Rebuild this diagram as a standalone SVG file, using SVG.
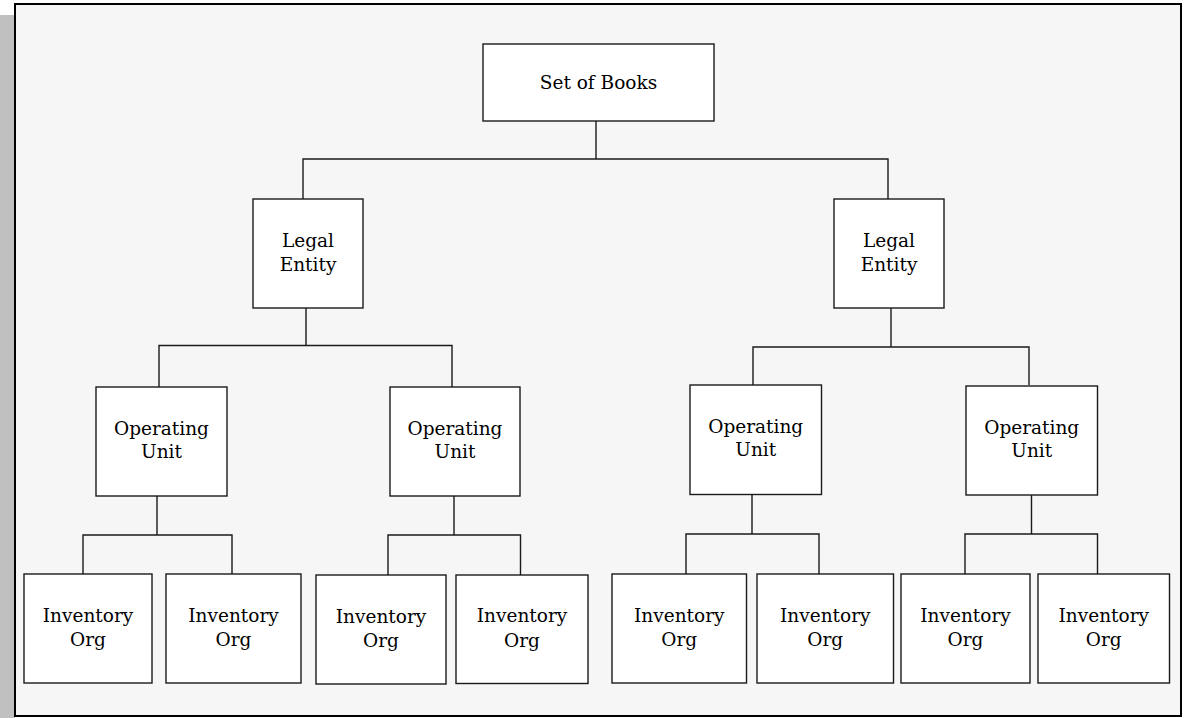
<svg xmlns="http://www.w3.org/2000/svg" width="1188" height="718" viewBox="0 0 1188 718">
<style>
.box{fill:#ffffff;stroke:#1a1a1a;stroke-width:1.4}
.lbl{font-family:"DejaVu Serif","Liberation Serif",serif;font-size:18.5px;fill:#000;text-anchor:middle}
.con{fill:none;stroke:#1a1a1a;stroke-width:1.4}
</style>
<rect x="0" y="15" width="15" height="703" fill="#c0c0c0"/>
<rect x="15" y="4" width="1166" height="712" fill="#f6f6f6" stroke="#000" stroke-width="2"/>
<g id="connectors">
<path class="con" d="M596 121V159M303 199V159H888V199"/>
<path class="con" d="M306 308V345.5M159 387V345.5H452V387"/>
<path class="con" d="M891 308V347M753 385V347H1029V385"/>
<path class="con" d="M157 496V535M83 574V535H232V574"/>
<path class="con" d="M454 496V535M388 575V535H520.5V575"/>
<path class="con" d="M752 494.5V534M686 574V534H819V574"/>
<path class="con" d="M1031.5 495V534M965 574V534H1097.5V574"/>
</g>
<g id="set-of-books"><rect class="box" x="483" y="44" width="231" height="77"/><text class="lbl" x="598.5" y="89">Set of Books</text></g>
<g id="legal-entity-1"><rect class="box" x="253" y="199" width="110" height="109"/><text class="lbl" x="308" y="246.5">Legal<tspan x="308" dy="24.5">Entity</tspan></text></g>
<g id="legal-entity-2"><rect class="box" x="834" y="199" width="110" height="109"/><text class="lbl" x="889" y="246.5">Legal<tspan x="889" dy="24.5">Entity</tspan></text></g>
<g id="operating-unit-1"><rect class="box" x="96" y="387" width="131" height="109"/><text class="lbl" x="161.5" y="434.5">Operating<tspan x="161.5" dy="23.5">Unit</tspan></text></g>
<g id="operating-unit-2"><rect class="box" x="390" y="387" width="130" height="109"/><text class="lbl" x="455" y="434.5">Operating<tspan x="455" dy="23.5">Unit</tspan></text></g>
<g id="operating-unit-3"><rect class="box" x="690" y="385" width="131.5" height="109.5"/><text class="lbl" x="755.75" y="432.5">Operating<tspan x="755.75" dy="23.5">Unit</tspan></text></g>
<g id="operating-unit-4"><rect class="box" x="966" y="386" width="131.5" height="109"/><text class="lbl" x="1031.75" y="433.5">Operating<tspan x="1031.75" dy="23.5">Unit</tspan></text></g>
<g id="inventory-org-1"><rect class="box" x="24" y="574" width="128" height="109"/><text class="lbl" x="88" y="621.5">Inventory<tspan x="88" dy="24.5">Org</tspan></text></g>
<g id="inventory-org-2"><rect class="box" x="166" y="574" width="135" height="109"/><text class="lbl" x="233.5" y="621.5">Inventory<tspan x="233.5" dy="24.5">Org</tspan></text></g>
<g id="inventory-org-3"><rect class="box" x="316" y="575" width="130" height="109"/><text class="lbl" x="381" y="622.5">Inventory<tspan x="381" dy="24.5">Org</tspan></text></g>
<g id="inventory-org-4"><rect class="box" x="456" y="575" width="132" height="108.5"/><text class="lbl" x="522" y="622">Inventory<tspan x="522" dy="24.5">Org</tspan></text></g>
<g id="inventory-org-5"><rect class="box" x="612" y="574" width="134.5" height="109"/><text class="lbl" x="679.25" y="621.5">Inventory<tspan x="679.25" dy="24.5">Org</tspan></text></g>
<g id="inventory-org-6"><rect class="box" x="757" y="574" width="136.5" height="109"/><text class="lbl" x="825.25" y="621.5">Inventory<tspan x="825.25" dy="24.5">Org</tspan></text></g>
<g id="inventory-org-7"><rect class="box" x="901" y="574" width="129" height="109"/><text class="lbl" x="965.5" y="621.5">Inventory<tspan x="965.5" dy="24.5">Org</tspan></text></g>
<g id="inventory-org-8"><rect class="box" x="1038" y="574" width="131.5" height="109"/><text class="lbl" x="1103.75" y="621.5">Inventory<tspan x="1103.75" dy="24.5">Org</tspan></text></g>
</svg>
